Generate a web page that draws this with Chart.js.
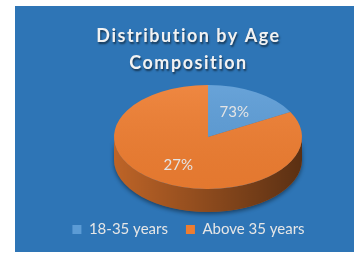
<!DOCTYPE html>
<html>
<head>
<meta charset="utf-8">
<script src="https://cdn.jsdelivr.net/npm/chart.js@4.4.1/dist/chart.umd.min.js"></script>
<style>
html, body { margin: 0; padding: 0; background: #fff; }
#panel { position: absolute; left: 15px; top: 6px; width: 339px; height: 246px; background: #2E75B6; }
</style>
</head>
<body>
<div id="panel"><canvas id="ageChart" width="339" height="246"></canvas></div>
<script>
const ageGroups = ['18-35 years', 'Above 35 years'];
const shares = [17, 83];
const shareLabels = ['73%', '27%'];
const sliceColors = ['#5B9BD5', '#ED7D31'];
const titleLines = ['Distribution by Age', 'Composition'];

// fake 3d: squash the pie and paint a side wall under it
const pie3d = {
  id: 'pie3d',
  afterInit(chart) {
    // draw the title after the pie so its shadow can be switched on alone
    const tb = chart.titleBlock;
    if (tb) tb._layers = () => [{ z: 1, draw: (area) => tb.draw(area) }];
  },
  beforeDatasetsDraw(chart, args, opts) {
    const arcs = chart.getDatasetMeta(0).data;
    if (!arcs.length) return;
    const ctx = chart.ctx;
    const { x, y, outerRadius: r } = arcs[0];
    const cx = x + opts.shiftX;
    const ry = r * opts.tilt;
    const cy = chart.chartArea.top + ry;
    const d = opts.depth;
    chart.$pie = { x, y, cx, cy, r, ry };

    arcs.forEach((arc, i) => {
      const a0 = Math.max(arc.startAngle, 0);
      const a1 = Math.min(arc.endAngle, Math.PI);
      if (a1 <= a0) return;
      ctx.save();
      ctx.beginPath();
      ctx.ellipse(cx, cy, r, ry, 0, a0, a1, false);
      ctx.ellipse(cx, cy + d, r, ry, 0, a1, a0, true);
      ctx.closePath();
      ctx.shadowColor = 'rgba(0,0,0,0.45)';
      ctx.shadowBlur = 4;
      ctx.shadowOffsetY = 2;
      ctx.fillStyle = sliceColors[i];
      ctx.fill();
      ctx.shadowColor = 'rgba(0,0,0,0)';
      const shade = ctx.createLinearGradient(cx - r, 0, cx + r, 0);
      shade.addColorStop(0, 'rgba(0,0,0,0.2)');
      shade.addColorStop(1, 'rgba(0,0,0,0.62)');
      ctx.fillStyle = shade;
      ctx.fill();
      ctx.restore();
    });

    ctx.save();
    ctx.translate(cx, cy);
    ctx.scale(1, opts.tilt);
    ctx.translate(-x, -y);
  },
  afterDatasetsDraw(chart, args, opts) {
    const p = chart.$pie;
    if (!p) return;
    const ctx = chart.ctx;
    // soft light on the top face
    const glow = ctx.createLinearGradient(0, p.y - p.r, 0, p.y + p.r);
    glow.addColorStop(0, 'rgba(255,255,255,0.08)');
    glow.addColorStop(1, 'rgba(0,0,0,0.04)');
    ctx.beginPath();
    ctx.arc(p.x, p.y, p.r, 0, Math.PI * 2);
    ctx.fillStyle = glow;
    ctx.fill();
    ctx.restore();

    const arcs = chart.getDatasetMeta(0).data;
    ctx.save();
    ctx.font = '15px Lato';
    ctx.fillStyle = '#E4E4E4';
    ctx.textAlign = 'center';
    ctx.textBaseline = 'middle';
    arcs.forEach((arc, i) => {
      const m = (arc.startAngle + arc.endAngle) / 2;
      const rr = p.r * opts.labelRadius[i];
      ctx.fillText(shareLabels[i], p.cx + rr * Math.cos(m), p.cy + rr * Math.sin(m) * opts.tilt);
    });
    ctx.restore();

    ctx.shadowColor = 'rgba(0,0,0,0.55)';
    ctx.shadowOffsetX = 1;
    ctx.shadowOffsetY = 1.5;
    ctx.shadowBlur = 2;
    ctx.letterSpacing = '1.5px';
  },
  afterDraw(chart) {
    const ctx = chart.ctx;
    ctx.shadowColor = 'rgba(0,0,0,0)';
    ctx.shadowOffsetX = 0;
    ctx.shadowOffsetY = 0;
    ctx.shadowBlur = 0;
    ctx.letterSpacing = '0px';
  }
};

const ctx = document.getElementById('ageChart').getContext('2d');
const ageChart = new Chart(ctx, {
  type: 'pie',
  data: {
    labels: ageGroups,
    datasets: [{
      data: shares,
      backgroundColor: sliceColors,
      borderWidth: 0,
      radius: 94
    }]
  },
  options: {
    responsive: false,
    animation: false,
    layout: { padding: { left: 8, bottom: 5 } },
    plugins: {
      title: {
        display: true,
        text: titleLines,
        color: '#F2F2F2',
        font: { family: 'Lato', size: 18, weight: 'bold', lineHeight: 1.5 },
        padding: { top: 17, bottom: 8 }
      },
      legend: {
        position: 'bottom',
        labels: {
          color: '#E6E6E6',
          font: { family: 'Lato', size: 15 },
          boxWidth: 9,
          boxHeight: 9,
          padding: 18
        }
      },
      tooltip: { enabled: false },
      pie3d: { tilt: 0.553, depth: 23, shiftX: 19.5, labelRadius: [0.55, 0.62] }
    }
  },
  plugins: [pie3d]
});
</script>
</body>
</html>
